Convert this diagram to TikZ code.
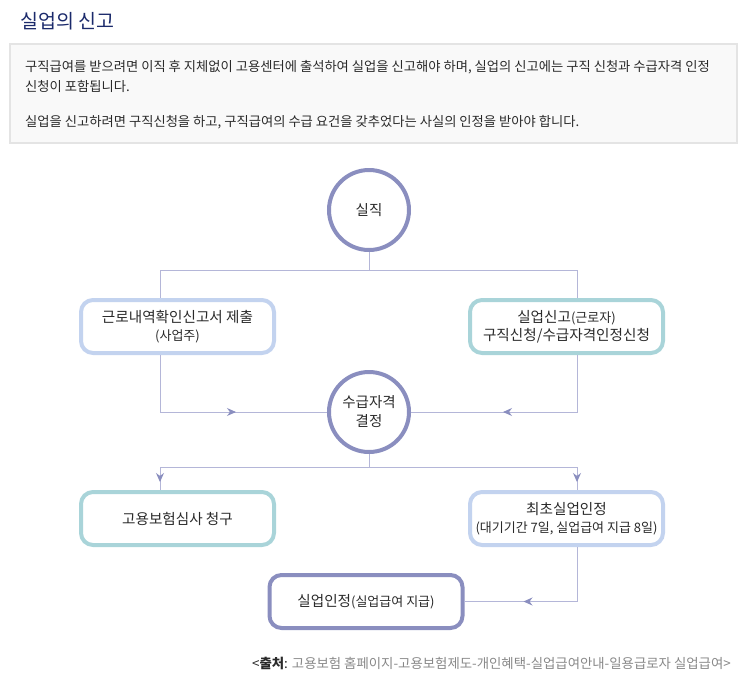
\documentclass[tikz,border=0pt]{standalone}
\usepackage{fontspec}
\setmainfont{Noto Sans CJK KR}
\usetikzlibrary{arrows.meta,decorations.markings}
\definecolor{navy}{HTML}{1B2A6B}
\definecolor{txt}{HTML}{2A2A2A}
\definecolor{grayt}{HTML}{888888}
\definecolor{circ}{HTML}{8A8EBF}
\definecolor{conncol}{HTML}{B4B6D8}
\definecolor{lblue}{HTML}{C3D3EF}
\definecolor{teal}{HTML}{A9D4D9}
\definecolor{boxgray}{HTML}{E4E4E4}
\definecolor{boxfill}{HTML}{F9F9F9}
\tikzset{
  circnode/.style={circle,draw=circ,line width=4pt,fill=white,minimum size=80pt,inner sep=0pt,
    align=center,text=txt,font=\fontsize{14.5pt}{19pt}\selectfont},
  flowbox/.style={rounded corners=12pt,line width=4pt,fill=white,minimum width=193pt,
    minimum height=53pt,inner sep=0pt,align=center,text=txt,font=\fontsize{14.6pt}{19pt}\selectfont},
  conn/.style={draw=conncol,line width=1pt},
  midarrow/.style={postaction={decorate},decoration={markings,
    mark=at position #1 with {\arrow[circ]{Stealth[length=9pt,width=8pt]}}}}
}
\newcommand{\sm}[1]{{\fontsize{13pt}{17pt}\selectfont #1}}
\begin{document}
\begin{tikzpicture}[x=1pt,y=-1pt]
\useasboundingbox (0,0) rectangle (740,694);
% title
\node[anchor=base west,text=navy,font=\fontsize{19.5pt}{22pt}\selectfont,inner sep=0pt] (title) at (20,28) {실업의 신고};
% info box
\draw[draw=boxgray,fill=boxfill,line width=2pt] (10,44) rectangle (737,143);
\begin{scope}[every node/.style={anchor=base west,inner sep=0pt,text=txt,font=\fontsize{13.3pt}{16pt}\selectfont}]
\node (l1) at (25,71) {구직급여를 받으려면 이직 후 지체없이 고용센터에 출석하여 실업을 신고해야 하며, 실업의 신고에는 구직 신청과 수급자격 인정};
\node (l2) at (25,91) {신청이 포함됩니다.};
\node (l3) at (25,126.5) {실업을 신고하려면 구직신청을 하고, 구직급여의 수급 요건을 갖추었다는 사실의 인정을 받아야 합니다.};
\end{scope}
% nodes
\node[circnode] (c1) at (369,210) {실직};
\node[flowbox,draw=lblue] (b1) at (177.5,326.5) {근로내역확인신고서 제출\\[-1pt]\sm{(사업주)}};
\node[flowbox,draw=teal] (b2) at (566.5,326.5) {실업신고\sm{(근로자)}\\[-1pt]구직신청/수급자격인정신청};
\node[circnode] (c2) at (369,412) {수급자격\\결정};
\node[flowbox,draw=teal] (b3) at (177.5,518.5) {고용보험심사 청구};
\node[flowbox,draw=lblue] (b4) at (566.5,518.5) {최초실업인정\\[-1pt]\sm{(대기기간 7일, 실업급여 지급 8일)}};
\node[flowbox,draw=circ] (b5) at (366,601.5) {실업인정\sm{(실업급여 지급)}};
% junction coordinates
\coordinate (t1) at (369,270);
\coordinate (tL) at (160,270);
\coordinate (tR) at (577,270);
\coordinate (m1) at (369,467);
\coordinate (mL) at (160,467);
\coordinate (mR) at (577,467);
% connectors
\draw[conn] (c1.south) -- (t1);
\draw[conn] (tL) -- (tR);
\draw[conn] (tL) -- (b1.north -| tL);
\draw[conn] (tR) -- (b2.north -| tR);
\draw[conn,midarrow=133pt] (b1.south -| tL) |- (c2.west);
\draw[conn,midarrow=131pt] (b2.south -| tR) |- (c2.east);
\draw[conn] (c2.south) -- (m1);
\draw[conn] (mL) -- (mR);
\draw[conn,midarrow=15pt] (mL) -- (b3.north -| mL);
\draw[conn,midarrow=15pt] (mR) -- (b4.north -| mR);
\draw[conn,midarrow=108pt] (b4.south -| tR) |- (b5.east);
% source
\node[anchor=base east,inner sep=0pt,text=grayt,font=\fontsize{13.4pt}{16pt}\selectfont] (src) at (731,668.5)
  {\textcolor{txt}{<\textbf{출처}:} 고용보험 홈페이지-고용보험제도-개인혜택-실업급여안내-일용급로자 실업급여>};
\end{tikzpicture}
\end{document}
